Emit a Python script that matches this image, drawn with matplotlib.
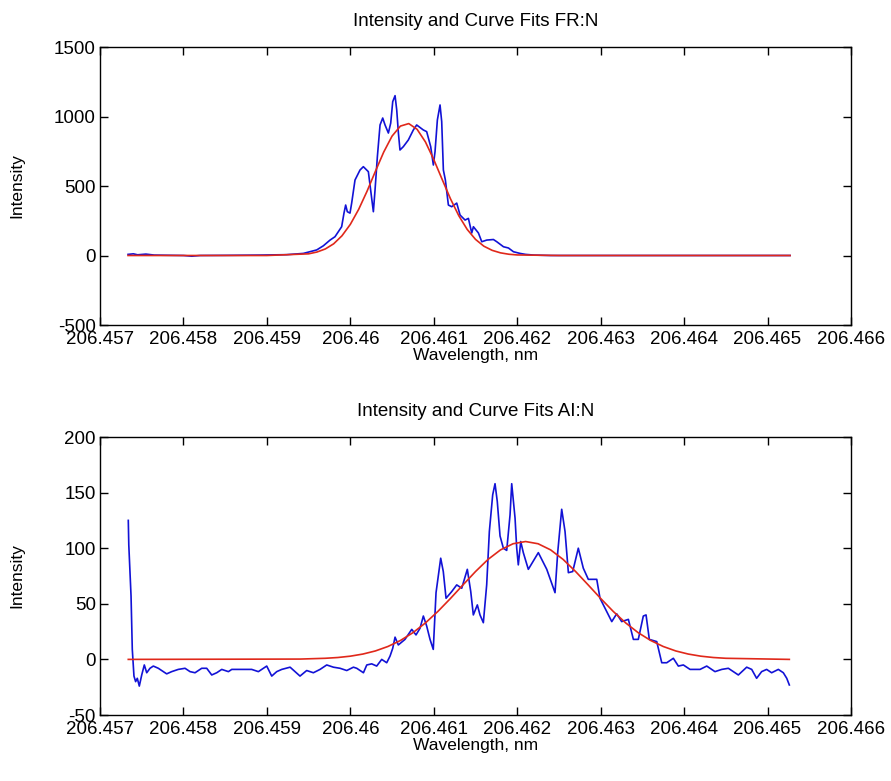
import matplotlib
matplotlib.use("Agg")
import matplotlib.pyplot as plt
from matplotlib.ticker import FixedLocator

plt.rcParams['font.family'] = ['Liberation Sans', 'DejaVu Sans']

# ---------------- data ----------------
# Top panel (FR:N): measured intensity (blue)
fr_wl = [206.457336, 206.457400, 206.457450, 206.457550, 206.457650, 206.458000,
         206.458100, 206.458200, 206.458500, 206.458918, 206.459237, 206.459437,
         206.459597, 206.459677, 206.459757, 206.459816, 206.459896, 206.459924,
         206.459944, 206.459964, 206.459996, 206.460016, 206.460056, 206.460116,
         206.460156, 206.460216, 206.460248, 206.460276, 206.460296, 206.460324,
         206.460356, 206.460388, 206.460416, 206.460456, 206.460484, 206.460508,
         206.460536, 206.460556, 206.460576, 206.460595, 206.460635, 206.460695,
         206.460755, 206.460795, 206.460875, 206.460915, 206.460963, 206.460995,
         206.461015, 206.461043, 206.461075, 206.461095, 206.461115, 206.461139,
         206.461175, 206.461215, 206.461275, 206.461315, 206.461375, 206.461415,
         206.461455, 206.461475, 206.461535, 206.461575, 206.461635, 206.461715,
         206.461755, 206.461835, 206.461895, 206.461955, 206.462034, 206.462100,
         206.462200, 206.462400, 206.465270]
fr_int = [8, 12, 5, 10, 3, 0,
          -5, 0, 1, 3, 6, 15,
          40, 70, 111, 135, 207, 305,
          363, 315, 305, 377, 543, 615,
          639, 603, 449, 315, 471, 711,
          939, 989, 939, 881, 953, 1107,
          1150, 1047, 881, 759, 783, 831,
          903, 939, 903, 891, 783, 651,
          747, 975, 1083, 963, 615, 543,
          363, 351, 377, 291, 255, 267,
          162, 207, 162, 99, 111, 115,
          99, 63, 54, 27, 15, 8,
          3, 0, 0]

# Top panel: Gaussian curve fit (red)
fr_fit_wl = [206.457336, 206.459000, 206.459500, 206.459600, 206.459700, 206.459800,
             206.459900, 206.460000, 206.460100, 206.460200, 206.460300, 206.460400,
             206.460500, 206.460600, 206.460700, 206.460800, 206.460900, 206.461000,
             206.461100, 206.461200, 206.461300, 206.461400, 206.461500, 206.461600,
             206.461700, 206.461800, 206.461900, 206.462000, 206.462500, 206.465270]
fr_fit = [0, 0, 12, 25, 47, 84,
          142, 224, 332, 462, 605, 744,
          859, 931, 949, 908, 817, 690,
          548, 408, 286, 188, 116, 67,
          37, 19, 9, 4, 0, 0]

# Bottom panel (AI:N): measured intensity (blue)
ai_wl = [206.457339, 206.457345, 206.457372, 206.457387, 206.457407, 206.457427,
         206.457447, 206.457471, 206.457500, 206.457531, 206.457560, 206.457599,
         206.457639, 206.457699, 206.457799, 206.457859, 206.457938, 206.458019,
         206.458079, 206.458139, 206.458219, 206.458279, 206.458339, 206.458399,
         206.458459, 206.458539, 206.458579, 206.458818, 206.458898, 206.458998,
         206.459058, 206.459118, 206.459178, 206.459278, 206.459397, 206.459477,
         206.459557, 206.459637, 206.459717, 206.459797, 206.459877, 206.459957,
         206.460037, 206.460077, 206.460157, 206.460197, 206.460256, 206.460316,
         206.460376, 206.460436, 206.460476, 206.460508, 206.460536, 206.460575,
         206.460655, 206.460736, 206.460787, 206.460835, 206.460875, 206.460915,
         206.460955, 206.460994, 206.461027, 206.461083, 206.461114, 206.461147,
         206.461215, 206.461275, 206.461335, 206.461402, 206.461443, 206.461474,
         206.461522, 206.461554, 206.461594, 206.461634, 206.461666, 206.461706,
         206.461734, 206.461761, 206.461794, 206.461834, 206.461874, 206.461914,
         206.461934, 206.461974, 206.461994, 206.462013, 206.462042, 206.462073,
         206.462133, 206.462253, 206.462354, 206.462453, 206.462485, 206.462533,
         206.462573, 206.462613, 206.462665, 206.462732, 206.462792, 206.462852,
         206.462953, 206.462992, 206.463073, 206.463133, 206.463192, 206.463252,
         206.463332, 206.463392, 206.463451, 206.463511, 206.463544, 206.463583,
         206.463672, 206.463732, 206.463792, 206.463871, 206.463931, 206.463991,
         206.464071, 206.464191, 206.464271, 206.464370, 206.464451, 206.464530,
         206.464650, 206.464750, 206.464810, 206.464869, 206.464929, 206.464989,
         206.465049, 206.465129, 206.465189, 206.465230, 206.465261]
ai_int = [125, 103, 57, 9, -15, -20,
          -17, -24, -14, -5, -12, -8,
          -6, -8, -13, -11, -9, -8,
          -11, -12, -8, -8, -14, -12,
          -9, -11, -9, -9, -11, -6,
          -15, -11, -9, -7, -15, -10,
          -12, -9, -5, -7, -8, -10,
          -7, -8, -12, -5, -4, -6,
          0, -3, 3, 10, 20, 13,
          18, 27, 22, 28, 39, 30,
          18, 9, 60, 91, 79, 55,
          61, 67, 64, 81, 61, 40,
          49, 40, 33, 67, 115, 148,
          158, 142, 111, 100, 98, 130,
          158, 127, 100, 85, 106, 96,
          81, 96, 81, 60, 96, 135,
          115, 78, 79, 100, 82, 72,
          72, 55, 43, 34, 41, 34,
          36, 18, 18, 39, 40, 18,
          16, -3, -3, 1, -6, -5,
          -9, -9, -6, -11, -9, -8,
          -14, -7, -9, -17, -11, -9,
          -12, -9, -12, -17, -23]

# Bottom panel: Gaussian curve fit (red)
ai_fit_wl = [206.457339, 206.459400, 206.459700, 206.459850, 206.460000, 206.460150,
             206.460300, 206.460450, 206.460600, 206.460750, 206.460900, 206.461050,
             206.461200, 206.461350, 206.461500, 206.461650, 206.461800, 206.461950,
             206.462100, 206.462250, 206.462400, 206.462550, 206.462700, 206.462850,
             206.463000, 206.463150, 206.463300, 206.463450, 206.463600, 206.463750,
             206.463900, 206.464050, 206.464200, 206.464350, 206.464500, 206.465261]
ai_fit = [0, 0.3, 1.0, 1.7, 2.9, 4.8,
          7.6, 11.6, 17, 24, 32.8, 43.2,
          54.8, 67, 79, 89.9, 98.5, 104,
          106, 104, 98.5, 89.9, 79, 67,
          54.8, 43.2, 32.8, 24, 17, 11.6,
          7.6, 4.8, 2.9, 1.7, 1.0, 0]

x_ticks = [206.457, 206.458, 206.459, 206.460, 206.461, 206.462, 206.463, 206.464, 206.465, 206.466]
x_tick_labels = ['206.457', '206.458', '206.459', '206.46', '206.461', '206.462',
                 '206.463', '206.464', '206.465', '206.466']
fr_yticks = [-500, 0, 500, 1000, 1500]
ai_yticks = [-50, 0, 50, 100, 150, 200]

titles = ['Intensity and Curve Fits FR:N', 'Intensity and Curve Fits AI:N']
xlabel = 'Wavelength, nm'
ylabel = 'Intensity'

BLUE = '#1212d6'
RED = '#e0281a'

# ---------------- figure ----------------
W, H = 891, 781
fig = plt.figure(figsize=(W / 100, H / 100), dpi=100)
fig.patch.set_facecolor('white')

def px_axes(left, top, right, bottom):
    return fig.add_axes([left / W, 1 - bottom / H, (right - left) / W, (bottom - top) / H])

ax1 = px_axes(100, 47, 851, 325)
ax2 = px_axes(100, 437, 851, 715)

panels = [
    (ax1, fr_wl, fr_int, fr_fit_wl, fr_fit, fr_yticks, (-500, 1500), titles[0]),
    (ax2, ai_wl, ai_int, ai_fit_wl, ai_fit, ai_yticks, (-50, 200), titles[1]),
]

TICK_FS = 13.5
TITLE_FS = 13.5
LABEL_FS = 12.5
for ax, wl, inten, fwl, fit, yt, ylim, title in panels:
    ax.plot(wl, inten, color=BLUE, lw=1.2)
    ax.plot(fwl, fit, color=RED, lw=1.2)
    ax.set_xlim(206.457, 206.466)
    ax.set_ylim(*ylim)
    ax.xaxis.set_major_locator(FixedLocator(x_ticks))
    ax.set_xticklabels(x_tick_labels)
    ax.set_yticks(yt)
    ax.set_yticklabels([str(v) for v in yt])
    ax.tick_params(direction='in', length=6, width=1.0, top=True, right=True,
                   labelsize=TICK_FS, colors='black')
    ax.tick_params(axis='x', pad=4)
    ax.tick_params(axis='y', pad=3)
    for s in ax.spines.values():
        s.set_linewidth(1.0)
        s.set_color('black')
    ax.set_title(title, fontsize=TITLE_FS, pad=15)
    ax.set_xlabel(xlabel, fontsize=LABEL_FS, labelpad=0)

ax1.set_ylabel(ylabel, fontsize=LABEL_FS)
ax2.set_ylabel(ylabel, fontsize=LABEL_FS)
for ax in (ax1, ax2):
    ax.yaxis.set_label_coords(-76 / 751, 0.5)

fig.savefig('out.png', dpi=100, facecolor='white')
